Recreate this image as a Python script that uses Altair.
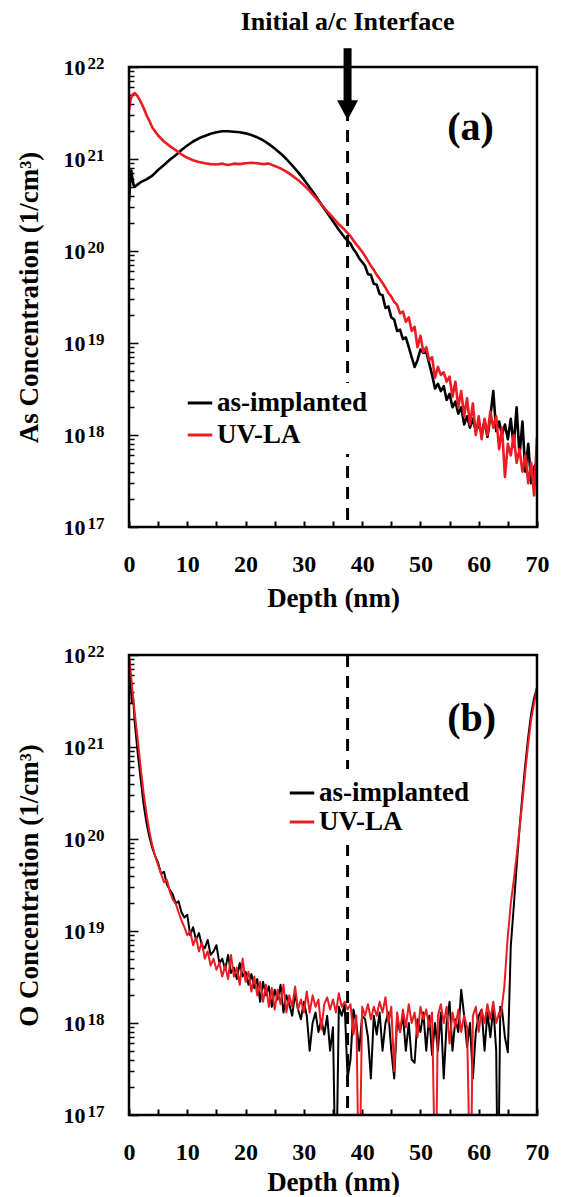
import altair as alt
import pandas as pd

FONT = "Liberation Serif"
SERIES = ["as-implanted", "UV-LA"]
COLORS = ["#000000", "#ec1c24"]

X_LABEL_VALUES = [0, 10, 20, 30, 40, 50, 60, 70]
X_TICK_VALUES = [0, 5, 10, 15, 20, 25, 30, 35, 40, 45, 50, 55, 60, 65, 70]
Y_DECADES = [1e17, 1e18, 1e19, 1e20, 1e21, 1e22]
X_DOMAIN = [0, 70]
Y_DOMAIN = [1e17, 1e22]
INTERFACE_DEPTH = 37.5

# ---- panel (a): As profiles (depth nm, concentration 1/cm3) ----
A_AS_IMPLANTED = [
    (0.0, 3.5e20), (0.2, 5.5e20), (0.4, 7.5e20), (0.6, 6.0e20), (0.8, 5.2e20), (1.0, 5.0e20),
    (1.5, 5.3e20), (2.0, 5.6e20), (3.0, 6.0e20), (4.0, 6.6e20), (5.0, 7.6e20), (6.0, 8.6e20),
    (7.0, 9.8e20), (8.0, 1.1e21), (9.0, 1.25e21), (10.0, 1.4e21), (11.0, 1.55e21), (12.0, 1.68e21),
    (13.0, 1.78e21), (14.0, 1.88e21), (15.0, 1.95e21), (16.0, 2.0e21), (17.0, 2.0e21), (18.0, 1.98e21),
    (19.0, 1.95e21), (20.0, 1.9e21), (21.0, 1.82e21), (22.0, 1.72e21), (23.0, 1.6e21), (24.0, 1.45e21),
    (25.0, 1.3e21), (26.0, 1.15e21), (27.0, 1.0e21), (28.0, 8.5e20), (29.0, 7.2e20), (30.0, 6.0e20),
    (31.0, 4.9e20), (32.0, 4.0e20), (33.0, 3.2e20), (34.0, 2.6e20), (35.0, 2.1e20), (36.0, 1.7e20),
    (37.0, 1.4e20), (38.0, 1.2e20), (38.5, 1.05e20), (39.0, 9.5e19), (39.5, 8.3e19), (40.0, 7.6e19),
    (40.5, 6.9e19), (41.0, 5.6e19), (41.5, 5.5e19), (42.0, 4.4e19), (42.5, 4.3e19), (43.0, 3.4e19),
    (43.5, 3.3e19), (44.0, 2.4e19), (44.5, 2.5e19), (45.0, 1.9e19), (45.5, 1.8e19), (46.0, 1.35e19),
    (46.5, 1.4e19), (47.0, 1.1e19), (47.5, 1.15e19), (48.0, 9.0e18), (48.5, 7.0e18), (49.0, 5.5e18),
    (49.5, 6.5e18), (50.0, 8.5e18), (50.5, 7.8e18), (51.0, 8.0e18), (51.5, 6.0e18), (52.0, 4.5e18),
    (52.5, 3.2e18), (53.0, 3.6e18), (53.5, 3.0e18), (54.0, 3.4e18), (54.5, 2.4e18), (55.0, 2.8e18),
    (55.5, 2.0e18), (56.0, 2.3e18), (56.5, 1.7e18), (57.0, 2.0e18), (57.5, 1.3e18), (58.0, 1.6e18),
    (58.5, 1.2e18), (59.0, 1.5e18), (59.5, 1.1e18), (60.0, 1.3e18), (60.5, 1.05e18), (61.0, 1.4e18),
    (61.5, 9.5e17), (62.0, 1.6e18), (62.5, 3.0e18), (63.0, 1.1e18), (63.5, 1.4e18), (64.0, 1.0e18),
    (64.5, 1.3e18), (65.0, 9.0e17), (65.5, 1.5e18), (66.0, 7.5e17), (66.5, 2.0e18), (67.0, 6.0e17),
    (67.5, 1.4e18), (68.0, 4.0e17), (68.5, 8.0e17), (69.0, 3.0e17), (69.5, 4.5e17), (70.0, 5.0e17),
]

A_UV_LA = [
    (0.0, 3.4e21), (0.3, 4.5e21), (0.6, 5.0e21), (1.0, 5.2e21), (1.5, 4.8e21), (2.0, 4.2e21),
    (2.5, 3.6e21), (3.0, 3.0e21), (3.5, 2.6e21), (4.0, 2.2e21), (5.0, 1.8e21), (6.0, 1.55e21),
    (7.0, 1.38e21), (8.0, 1.25e21), (9.0, 1.12e21), (10.0, 1.03e21), (11.0, 9.7e20), (12.0, 9.3e20),
    (13.0, 9.0e20), (14.0, 8.8e20), (15.0, 8.7e20), (16.0, 8.9e20), (17.0, 8.6e20), (18.0, 8.9e20),
    (19.0, 8.8e20), (20.0, 9.0e20), (21.0, 9.1e20), (22.0, 9.0e20), (23.0, 8.8e20), (24.0, 8.9e20),
    (25.0, 8.4e20), (26.0, 7.9e20), (27.0, 7.3e20), (28.0, 6.6e20), (29.0, 5.9e20), (30.0, 5.2e20),
    (31.0, 4.5e20), (32.0, 3.8e20), (33.0, 3.2e20), (34.0, 2.7e20), (35.0, 2.3e20), (36.0, 1.95e20),
    (37.0, 1.7e20), (38.0, 1.45e20), (38.5, 1.3e20), (39.0, 1.18e20), (39.5, 1.08e20), (40.0, 9.8e19),
    (40.5, 8.8e19), (41.0, 7.8e19), (41.5, 6.9e19), (42.0, 6.2e19), (42.5, 5.5e19), (43.0, 5.0e19),
    (43.5, 4.5e19), (44.0, 4.0e19), (44.5, 3.5e19), (45.0, 3.2e19), (45.5, 2.8e19), (46.0, 2.6e19),
    (46.5, 2.1e19), (47.0, 2.2e19), (47.5, 1.7e19), (48.0, 1.9e19), (48.5, 1.35e19), (49.0, 1.5e19),
    (49.5, 9.0e18), (50.0, 1.2e19), (50.5, 8.0e18), (51.0, 9.0e18), (51.5, 6.5e18), (52.0, 7.0e18),
    (52.5, 4.2e18), (53.0, 5.5e18), (53.5, 4.5e18), (54.0, 4.8e18), (54.5, 3.8e18), (55.0, 4.3e18),
    (55.5, 2.6e18), (56.0, 3.8e18), (56.5, 2.0e18), (57.0, 3.0e18), (57.5, 1.6e18), (58.0, 2.5e18),
    (58.5, 1.3e18), (59.0, 2.2e18), (59.5, 1.0e18), (60.0, 1.6e18), (60.5, 9.0e17), (61.0, 1.5e18),
    (61.5, 1.0e18), (62.0, 1.8e18), (62.5, 1.2e18), (63.0, 1.6e18), (63.5, 7.0e17), (64.0, 1.2e18),
    (64.5, 3.5e17), (65.0, 8.0e17), (65.5, 6.0e17), (66.0, 1.0e18), (66.5, 5.0e17), (67.0, 7.0e17),
    (67.5, 4.0e17), (68.0, 6.0e17), (68.5, 3.0e17), (69.0, 5.0e17), (69.5, 2.2e17), (70.0, 9.5e17),
]

# ---- panel (b): O profiles ----
B_AS_IMPLANTED = [
    (0.0, 9.0e21), (0.3, 5.0e21), (0.5, 3.0e21), (0.7, 3.5e21), (1.0, 1.8e21), (1.5, 8.5e20),
    (2.0, 4.5e20), (2.5, 2.4e20), (3.0, 1.5e20), (3.5, 1.05e20), (4.0, 8.0e19), (4.5, 6.5e19),
    (5.0, 5.5e19), (5.5, 4.2e19), (6.0, 4.4e19), (6.5, 3.2e19), (7.0, 2.8e19), (7.5, 2.5e19),
    (8.0, 2.0e19), (8.5, 2.1e19), (9.0, 1.6e19), (9.5, 1.4e19), (10.0, 1.5e19), (10.5, 9.0e18),
    (11.0, 1.1e19), (11.5, 8.0e18), (12.0, 9.5e18), (12.5, 7.0e18), (13.0, 6.5e18), (13.5, 8.0e18),
    (14.0, 5.5e18), (14.5, 6.0e18), (15.0, 7.0e18), (15.5, 4.5e18), (16.0, 5.0e18), (16.5, 3.8e18),
    (17.0, 5.5e18), (17.5, 3.5e18), (18.0, 4.0e18), (18.5, 3.0e18), (19.0, 4.5e18), (19.5, 3.2e18),
    (20.0, 3.6e18), (20.5, 2.6e18), (21.0, 3.4e18), (21.5, 2.4e18), (22.0, 3.0e18), (22.5, 1.7e18),
    (23.0, 2.8e18), (23.5, 2.0e18), (24.0, 2.5e18), (24.5, 1.5e18), (25.0, 2.3e18), (25.5, 1.8e18),
    (26.0, 2.6e18), (26.5, 1.3e18), (27.0, 2.0e18), (27.5, 1.6e18), (28.0, 1.2e18), (28.5, 2.1e18),
    (29.0, 1.4e18), (29.5, 1.1e18), (30.0, 1.7e18), (30.5, 1.2e18), (31.0, 5.0e17), (31.5, 1.0e18),
    (32.0, 1.3e18), (32.5, 8.0e17), (33.0, 1.1e18), (33.5, 7.5e17), (34.0, 1.2e18), (34.5, 5.0e17),
    (35.0, 9.0e17), (35.5, 1.0e16), (36.0, 1.5e18), (36.5, 1.2e18), (37.0, 1.6e18), (37.5, 2.5e17),
    (38.0, 4.0e17), (38.5, 1.4e18), (39.0, 1.0e18), (39.5, 5.0e17), (40.0, 1.2e18), (40.5, 1.1e18),
    (41.0, 7.0e17), (41.5, 2.5e17), (42.0, 1.2e18), (42.5, 7.5e17), (43.0, 1.3e18), (43.5, 5.0e17),
    (44.0, 1.0e18), (44.5, 1.3e18), (45.0, 5.0e17), (45.5, 2.5e17), (46.0, 1.1e18), (46.5, 8.0e17),
    (47.0, 1.2e18), (47.5, 5.0e17), (48.0, 1.0e18), (48.5, 4.0e17), (49.0, 3.7e17), (49.5, 1.1e18),
    (50.0, 8.0e17), (50.5, 1.3e18), (51.0, 5.0e17), (51.5, 1.2e18), (52.0, 4.5e17), (52.5, 1.0e18),
    (53.0, 5.0e17), (53.5, 1.3e18), (54.0, 2.5e17), (54.5, 1.0e18), (55.0, 1.7e18), (55.5, 5.0e17),
    (56.0, 1.1e18), (56.5, 8.0e17), (57.0, 2.3e18), (57.5, 1.2e18), (58.0, 5.5e17), (58.5, 1.0e18),
    (59.0, 2.5e17), (59.5, 8.0e17), (60.0, 1.2e18), (60.5, 1.4e18), (61.0, 5.0e17), (61.5, 1.3e18),
    (62.0, 7.0e17), (62.5, 1.5e18), (63.0, 5.0e17), (63.3, 1.0e16), (63.7, 1.5e18), (64.0, 1.4e18),
    (64.5, 7.0e17), (65.0, 4.8e17), (65.5, 6.8e18), (66.0, 1.8e19), (66.5, 5.0e19), (67.0, 1.3e20),
    (67.5, 3.0e20), (68.0, 6.5e20), (68.5, 1.3e21), (69.0, 2.3e21), (69.5, 3.4e21), (70.0, 4.4e21),
]

B_UV_LA = [
    (0.0, 9.8e21), (0.3, 6.5e21), (0.6, 4.0e21), (1.0, 2.3e21), (1.5, 1.2e21), (2.0, 6.0e20),
    (2.5, 3.2e20), (3.0, 1.9e20), (3.5, 1.2e20), (4.0, 8.5e19), (4.5, 6.5e19), (5.0, 5.2e19),
    (5.5, 4.2e19), (6.0, 3.4e19), (6.5, 3.6e19), (7.0, 2.7e19), (7.5, 2.2e19), (8.0, 2.0e19),
    (8.5, 1.6e19), (9.0, 1.3e19), (9.5, 1.1e19), (10.0, 9.0e18), (10.5, 1.0e19), (11.0, 7.0e18),
    (11.5, 8.5e18), (12.0, 6.0e18), (12.5, 7.5e18), (13.0, 5.0e18), (13.5, 6.0e18), (14.0, 4.2e18),
    (14.5, 5.0e18), (15.0, 3.8e18), (15.5, 4.5e18), (16.0, 3.2e18), (16.5, 4.2e18), (17.0, 3.0e18),
    (17.5, 5.5e18), (18.0, 3.2e18), (18.5, 4.0e18), (19.0, 2.6e18), (19.5, 5.0e18), (20.0, 2.8e18),
    (20.5, 3.6e18), (21.0, 2.2e18), (21.5, 3.2e18), (22.0, 2.0e18), (22.5, 2.8e18), (23.0, 1.7e18),
    (23.5, 2.6e18), (24.0, 1.5e18), (24.5, 2.4e18), (25.0, 1.4e18), (25.5, 2.3e18), (26.0, 1.6e18),
    (26.5, 2.6e18), (27.0, 1.3e18), (27.5, 2.0e18), (28.0, 1.5e18), (28.5, 2.5e18), (29.0, 1.4e18),
    (29.5, 1.8e18), (30.0, 1.3e18), (30.5, 2.2e18), (31.0, 1.3e18), (31.5, 2.0e18), (32.0, 1.5e18),
    (32.5, 1.8e18), (33.0, 8.5e17), (33.5, 1.6e18), (34.0, 1.9e18), (34.5, 1.4e18), (35.0, 1.8e18),
    (35.5, 1.3e18), (36.0, 2.1e18), (36.5, 1.5e18), (37.0, 1.7e18), (37.5, 1.4e18), (38.0, 1.6e18),
    (38.5, 7.5e17), (39.0, 1.2e18), (39.5, 1.0e16), (40.0, 1.5e18), (40.5, 1.2e18), (41.0, 1.6e18),
    (41.5, 1.1e18), (42.0, 1.5e18), (42.5, 1.2e18), (43.0, 1.7e18), (43.5, 1.3e18), (44.0, 1.9e18),
    (44.5, 1.0e18), (45.0, 1.5e18), (45.5, 3.0e17), (46.0, 1.3e18), (46.5, 8.0e17), (47.0, 1.4e18),
    (47.5, 9.0e17), (48.0, 1.6e18), (48.5, 1.0e18), (49.0, 1.3e18), (49.5, 7.0e17), (50.0, 1.5e18),
    (50.5, 1.1e18), (51.0, 1.4e18), (51.5, 9.0e17), (52.0, 1.3e18), (52.6, 1.0e16), (53.0, 1.2e18),
    (53.5, 1.6e18), (54.0, 1.0e18), (54.5, 1.5e18), (55.0, 6.0e17), (55.5, 1.3e18), (56.0, 9.0e17),
    (56.5, 1.4e18), (57.0, 8.0e17), (57.5, 1.2e18), (58.0, 9.0e17), (58.6, 1.0e16), (59.0, 1.2e18),
    (59.5, 1.5e18), (60.0, 8.0e17), (60.5, 1.4e18), (61.0, 1.0e18), (61.5, 1.6e18), (62.0, 1.1e18),
    (62.5, 1.7e18), (63.0, 1.0e18), (63.5, 1.3e18), (63.8, 1.2e18), (64.4, 2.5e18), (64.9, 7.4e18),
    (65.5, 2.0e19), (66.0, 3.5e19), (66.5, 6.5e19), (67.0, 1.3e20), (67.5, 2.6e20), (68.0, 5.5e20),
    (68.5, 1.1e21), (69.0, 2.0e21), (69.5, 3.0e21), (70.0, 4.4e21),
]

# annotation anchors (data units)
ARROW_TOP, ARROW_BOTTOM, ARROW_HEAD, NOTE_Y = 1.6e22, 4.1e21, 3.4e21, 3.1e22
NOTE_TEXT = "Initial a/c Interface"

PLOT_W, PLOT_H = 408, 460

Y_TICKS = [m * 10.0 ** e for e in range(17, 22) for m in range(1, 10)] + [1e22]
EXP = "round(log(datum.value)/LN10)"
MAJOR_TEST = f"abs(log(datum.value)/LN10 - {EXP}) < 0.001"


def panel(pairs_list, y_title, tag, tag_xy, legend_xy, legend_row_pad, legend_pad, line_w,
          with_arrow, x_title_pad):
    rows = []
    for name, pairs in zip(SERIES, pairs_list):
        for d, c in pairs:
            rows.append({"depth": d, "conc": c, "series": name})
    df = pd.DataFrame(rows)
    xs = alt.Scale(domain=X_DOMAIN, nice=False)
    ys = alt.Scale(type="log", domain=Y_DOMAIN, nice=False)

    x_axis = alt.Axis(orient="bottom", values=X_LABEL_VALUES, ticks=False, domain=False, grid=False,
                      labelFont=FONT, labelFontSize=24, labelFontWeight="bold", labelColor="black",
                      labelPadding=25, labelFlush=False, labelOverlap=False,
                      title="Depth (nm)", titleFont=FONT, titleFontSize=27, titleFontWeight="bold",
                      titleColor="black", titlePadding=x_title_pad)
    y_axis = alt.Axis(orient="left", values=Y_DECADES, labelExpr="'10'", ticks=False, domain=False,
                      grid=False, labelFont=FONT, labelFontSize=22, labelFontWeight="bold",
                      labelColor="black", labelPadding=44, labelOverlap=False, labelFlush=False,
                      title=y_title, titleFont=FONT, titleFontSize=27, titleFontWeight="bold",
                      titleColor="black", titlePadding=20)
    legend = alt.Legend(orient="none", legendX=legend_xy[0], legendY=legend_xy[1], title=None,
                        symbolType="stroke", symbolSize=600, symbolStrokeWidth=3,
                        labelFont=FONT, labelFontSize=27, labelFontWeight="bold", labelColor="black",
                        labelOffset=3, rowPadding=legend_row_pad, padding=legend_pad, fillColor="white")
    lines = alt.Chart(df).mark_line(clip=True, strokeWidth=line_w, strokeJoin="round").encode(
        x=alt.X("depth:Q", scale=xs, axis=x_axis),
        y=alt.Y("conc:Q", scale=ys, axis=y_axis),
        color=alt.Color("series:N", scale=alt.Scale(domain=SERIES, range=COLORS), legend=legend),
    )

    # exponent part of the decade labels (10^n)
    exp_df = pd.DataFrame({"depth": [0] * len(Y_DECADES), "conc": Y_DECADES})
    exp_axis = alt.Axis(orient="left", values=Y_DECADES, labelExpr="'' + " + EXP, ticks=False,
                        domain=False, grid=False, labelFont=FONT, labelFontSize=17,
                        labelFontWeight="bold", labelColor="black", labelPadding=25,
                        labelOffset=-4, labelOverlap=False, labelFlush=False, title=None)
    exps = alt.Chart(exp_df).mark_point(opacity=0, size=1).encode(
        x=alt.X("depth:Q", scale=xs, axis=None),
        y=alt.Y("conc:Q", scale=ys, axis=exp_axis),
    )

    # plot frame drawn along the scale domain
    frame_df = pd.DataFrame({"x0": [X_DOMAIN[0]], "x1": [X_DOMAIN[1]], "y0": [Y_DOMAIN[0]], "y1": [Y_DOMAIN[1]]})
    frame = alt.Chart(frame_df).mark_rect(fill="white", fillOpacity=0, stroke="black", strokeWidth=2.5,
                                          clip=False).encode(
        x=alt.X("x0:Q", scale=xs, axis=None), x2="x1:Q",
        y=alt.Y("y0:Q", scale=ys, axis=None), y2="y1:Q",
    )

    iface = alt.Chart(pd.DataFrame({"depth": [INTERFACE_DEPTH]})).mark_rule(
        strokeDash=[12, 9], strokeWidth=3, color="black"
    ).encode(x=alt.X("depth:Q", scale=xs, axis=None))

    tag_df = pd.DataFrame({"depth": [tag_xy[0]], "conc": [tag_xy[1]], "label": [tag]})
    tick_x = alt.Axis(orient="top", offset=-PLOT_H, values=X_TICK_VALUES, labels=False, domain=False,
                      grid=False, ticks=True, tickSize=6, tickWidth=2, tickColor="black", title=None)
    tick_y = alt.Axis(orient="right", offset=-PLOT_W, values=Y_TICKS, labels=False, domain=False,
                      grid=False, ticks=True,
                      tickSize={"condition": {"test": MAJOR_TEST, "value": 9}, "value": 5},
                      tickWidth=1.5, tickColor="black", title=None)
    tag_layer = alt.Chart(tag_df).mark_text(font=FONT, fontSize=40, fontWeight="bold", color="black").encode(
        x=alt.X("depth:Q", scale=xs, axis=tick_x),
        y=alt.Y("conc:Q", scale=ys, axis=tick_y),
        text="label:N",
    )

    layers = [lines, exps, iface]
    if with_arrow:
        adf = pd.DataFrame({"depth": [INTERFACE_DEPTH], "top": [ARROW_TOP], "bottom": [ARROW_BOTTOM],
                            "head": [ARROW_HEAD], "note_y": [NOTE_Y], "label": [NOTE_TEXT]})
        shaft = alt.Chart(adf).mark_rule(strokeWidth=8, color="black", clip=False).encode(
            x=alt.X("depth:Q", scale=xs, axis=None),
            y=alt.Y("top:Q", scale=ys, axis=None), y2="bottom:Q")
        head = alt.Chart(adf).mark_point(shape="M-1,-0.95L1,-0.95L0,0.95Z", filled=True, size=441,
                                         opacity=1, color="black", strokeWidth=0, clip=False).encode(
            x=alt.X("depth:Q", scale=xs, axis=None),
            y=alt.Y("head:Q", scale=ys, axis=None))
        note = alt.Chart(adf).mark_text(font=FONT, fontSize=26, fontWeight="bold", color="black",
                                        baseline="middle", clip=False).encode(
            x=alt.X("depth:Q", scale=xs, axis=None),
            y=alt.Y("note_y:Q", scale=ys, axis=None), text="label:N")
        layers += [shaft, head, note]
    layers += [frame, tag_layer]
    return alt.layer(*layers).resolve_axis(x="independent", y="independent").properties(
        width=PLOT_W, height=PLOT_H)


panel_a = panel([A_AS_IMPLANTED, A_UV_LA], "As Concentration (1/cm³)", "(a)", (58.6, 2.15e21),
                (51, 316), 5, 6, 2.6, True, 9)
panel_b = panel([B_AS_IMPLANTED, B_UV_LA], "O Concentration (1/cm³)", "(b)", (58.8, 2.0e21),
                (149, 114), 2, 10, 2.0, False, 5)

chart = (
    alt.vconcat(panel_a, panel_b, spacing=31)
    .resolve_scale(color="independent")
    .properties(padding={"left": 7, "top": 0, "right": 5, "bottom": 0})
    .configure(font=FONT)
    .configure_view(strokeWidth=0)
)

chart.save("out.html", embed_options={"renderer": "svg", "actions": False})
